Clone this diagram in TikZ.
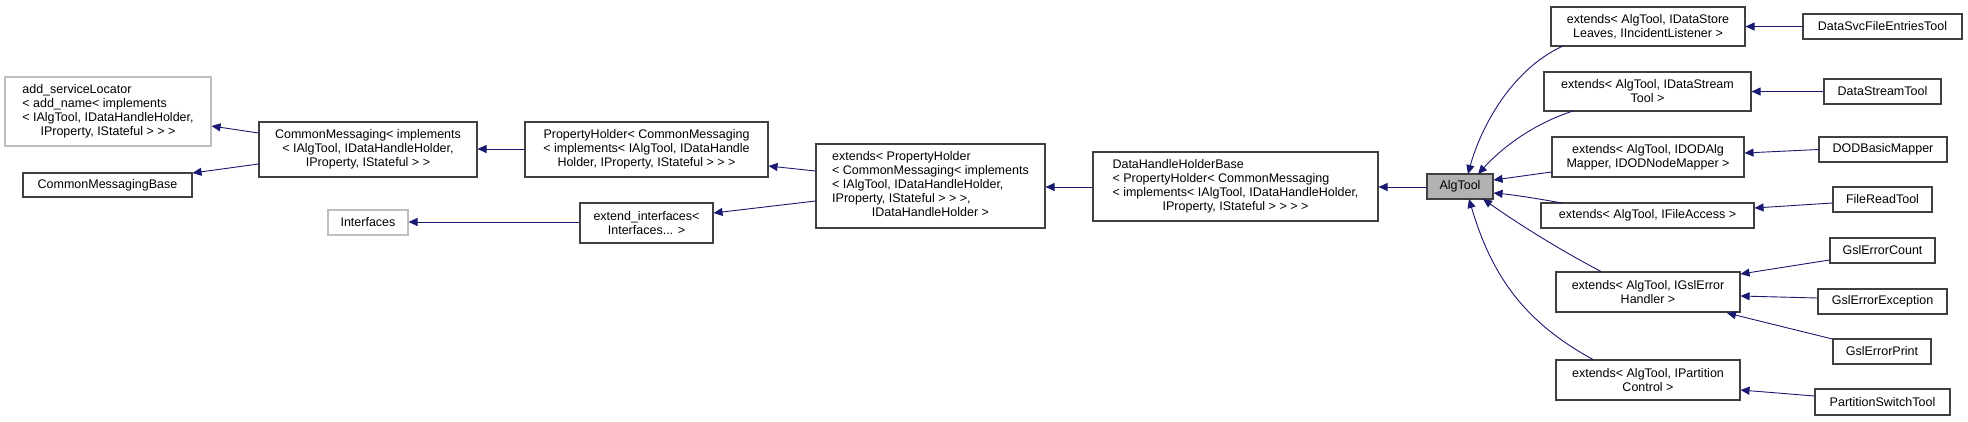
\documentclass[tikz,border=0pt]{standalone}
\usepackage{fontspec}
\setmainfont{Liberation Sans}
\usetikzlibrary{arrows.meta}
\definecolor{edgec}{RGB}{25,25,112}
\newcommand{\LL}[1]{\begin{tabular}{@{}l@{}}#1\end{tabular}}
\newcommand{\CL}[1]{\multicolumn{1}{@{}c@{}}{#1}}
\begin{document}
\begin{tikzpicture}[x=1pt,y=-1pt,
  box/.style={draw=black!75,line width=1.1pt,rectangle,inner sep=0pt,align=center,font=\fontsize{12.5}{14}\selectfont,fill=white},
  gbox/.style={box,draw=black!25},
  sel/.style={box,fill=black!30},
  inh/.style={edgec,line width=0.9pt,-{Triangle[length=9pt,width=8pt]}}]
\useasboundingbox (0,0) rectangle (1968,421);
\newcommand{\bx}[7]{\node[#1,minimum width=#4-#2,minimum height=#5-#3] (#6) at ({(#2+#4)/2},{(#3+#5)/2}) {#7};}
\bx{gbox}{5}{77}{211}{146}{asl}{\LL{add\_serviceLocator\\< add\_name< implements\\< IAlgTool, IDataHandleHolder,\\\CL{IProperty, IStateful > > >}}}
\bx{box}{23}{173}{192}{197}{cmb}{CommonMessagingBase}
\bx{box}{259}{122}{477}{177}{cm}{CommonMessaging< implements\\< IAlgTool, IDataHandleHolder,\\IProperty, IStateful > >}
\bx{gbox}{328}{210}{408}{235}{ifc}{Interfaces}
\bx{box}{525}{122}{768}{177}{ph}{PropertyHolder< CommonMessaging\\< implements< IAlgTool, IDataHandle\\Holder, IProperty, IStateful > > >}
\bx{box}{580}{203}{713}{243}{ei}{extend\_interfaces<\\Interfaces... >}
\bx{box}{816}{144}{1045}{228}{eph}{\LL{extends< PropertyHolder\\< CommonMessaging< implements\\< IAlgTool, IDataHandleHolder,\\IProperty, IStateful > > >,\\\CL{IDataHandleHolder >}}}
\bx{box}{1093}{152}{1378}{221}{dhhb}{\LL{DataHandleHolderBase\\< PropertyHolder< CommonMessaging\\< implements< IAlgTool, IDataHandleHolder,\\\CL{IProperty, IStateful > > > >}}}
\bx{sel}{1427}{174}{1493}{199}{alg}{AlgTool}
\bx{box}{1551}{7}{1745}{46}{e1}{extends< AlgTool, IDataStore\\Leaves, IIncidentListener >}
\bx{box}{1544}{72}{1751}{111}{e2}{extends< AlgTool, IDataStream\\Tool >}
\bx{box}{1552}{137}{1744}{177}{e3}{extends< AlgTool, IDODAlg\\Mapper, IDODNodeMapper >}
\bx{box}{1541}{203}{1754}{228}{e4}{extends< AlgTool, IFileAccess >}
\bx{box}{1556}{272}{1740}{312}{e5}{extends< AlgTool, IGslError\\Handler >}
\bx{box}{1556}{360}{1740}{400}{e6}{extends< AlgTool, IPartition\\Control >}
\bx{box}{1803}{14}{1962}{39}{l1}{DataSvcFileEntriesTool}
\bx{box}{1824}{79}{1941}{104}{l2}{DataStreamTool}
\bx{box}{1819}{137}{1947}{162}{l3}{DODBasicMapper}
\bx{box}{1833}{187}{1932}{212}{l4}{FileReadTool}
\bx{box}{1830}{238}{1935}{263}{l5}{GslErrorCount}
\bx{box}{1818}{289}{1947}{314}{l6}{GslErrorException}
\bx{box}{1833}{339}{1931}{364}{l7}{GslErrorPrint}
\bx{box}{1815}{389}{1950}{415}{l8}{PartitionSwitchTool}
% edges
\draw[inh] (cm.west |- 0,133) -- (asl.east |- 0,126);
\draw[inh] (cm.west |- 0,164) -- (cmb.east |- 0,173);
\draw[inh] (ph.west |- 0,149) -- (cm.east |- 0,149);
\draw[inh] (eph.west |- 0,171) -- (ph.east |- 0,166);
\draw[inh] (eph.west |- 0,201) -- (ei.east |- 0,213);
\draw[inh] (ei.west |- 0,222) -- (ifc.east |- 0,222);
\draw[inh] (dhhb.west |- 0,187) -- (eph.east |- 0,187);
\draw[inh] (alg.west |- 0,187) -- (dhhb.east |- 0,187);
\coordinate (a1) at (1563,46);
\draw[inh] (a1) .. controls (1510,70) and (1480,130) .. (1468,174);
\coordinate (a2) at (1573,111);
\draw[inh] (a2) .. controls (1530,125) and (1500,150) .. (1478,174);
\draw[inh] (e3.west |- 0,172) -- (alg.east |- 0,180);
\draw[inh] (1562,203) .. controls (1540,199) and (1515,195) .. (alg.east |- 0,193);
\draw[inh] (e5.north -| 1601,0) .. controls (1560,250) and (1520,225) .. (1483,199);
\draw[inh] (e6.north -| 1593,0) .. controls (1520,320) and (1490,270) .. (1469,199);
\draw[inh] (l1.west) -- (e1.east |- l1.west);
\draw[inh] (l2.west) -- (e2.east |- l2.west);
\draw[inh] (l3.west) -- (e3.east |- 0,153);
\draw[inh] (l4.west |- 0,203) -- (e4.east |- 0,208);
\draw[inh] (l5.west |- 0,260) -- (e5.east |- 0,274);
\draw[inh] (l6.west |- 0,298) -- (e5.east |- 0,296);
\draw[inh] (l7.west |- 0,339) -- (1727,313);
\draw[inh] (l8.west |- 0,396) -- (e6.east |- 0,390);
\end{tikzpicture}
\end{document}
